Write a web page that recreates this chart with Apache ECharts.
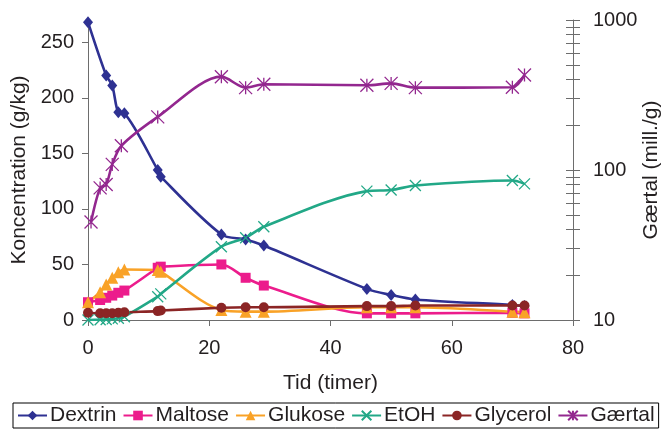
<!DOCTYPE html>
<html>
<head>
<meta charset="utf-8">
<script src="https://cdn.jsdelivr.net/npm/echarts@6/dist/echarts.min.js"></script>
<style>
html,body{margin:0;padding:0;background:#fff;}
#c{width:668px;height:431px;}
</style>
</head>
<body>
<div id="c"></div>
<script>
// ---- data ----
var dextrinT = [0, 3, 4, 5, 6, 11.5, 12, 22, 26, 29, 46, 50, 54, 70, 72];
var dextrin  = [268, 220, 211, 187, 186, 135, 129, 77, 72.5, 67, 28, 22.5, 18.5, 13.5, 12.5];
var sampleT  = [0, 2, 3, 4, 5, 6, 11.5, 12, 22, 26, 29, 46, 50, 54, 70, 72];
var maltose  = [16, 18, 20, 22, 24.5, 26.5, 47, 48, 50, 38, 31, 6, 6, 6, 6.5, 6];
var glukose  = [16, 25, 32, 38, 43, 45.5, 45, 43.5, 9, 7.5, 7.5, 11.5, 11.5, 11.5, 7.5, 7];
var etoh     = [0, 0.3, 0.5, 1, 1.5, 3, 21, 23.5, 66, 74, 84, 116, 117, 121, 125.5, 122.5];
var glycerol = [6.5, 6, 6, 6, 6.5, 7, 8, 8.5, 11, 11.5, 11.5, 12.5, 12.5, 13, 13, 13];
var gaertalT = [0.5, 2, 3, 4, 5.5, 11.5, 22, 26, 29, 46, 50, 54, 70, 72];
var gaertal  = [45, 76, 80, 109, 145, 226, 419, 354, 373, 367, 378, 354, 356, 430];
var leftTicks = [0, 50, 100, 150, 200, 250];
var rightLabels = [10, 100, 1000];
var rightTicks = [10, 20, 30, 40, 50, 60, 70, 80, 90, 100, 200, 300, 400, 500, 600, 700, 800, 900, 1000];

function pairs(t, v) { return t.map(function (x, i) { return [x, v[i]]; }); }
function lg(v) { return Math.log(v) / Math.LN10; }

var FONT = 'Liberation Sans, Arial, sans-serif';
var AX = '#6d6d6d';
var TXT = '#231f20';
var FS = 21;

var C = {
  dextrin: '#2e3192', maltose: '#ec1c8c', glukose: '#f9a227',
  etoh: '#22a887', glycerol: '#8b2525', gaertal: '#93278f'
};

function ser(name, data, color, symbol, size, yIdx, bw) {
  return {
    name: name, type: 'line', data: data, yAxisIndex: yIdx || 0,
    smooth: 0.3, symbol: symbol, symbolSize: size, showSymbol: true,
    lineStyle: { color: color, width: 2.6 },
    itemStyle: { color: color, borderColor: color, borderWidth: bw || 0 },
    emphasis: { disabled: true }, animation: false
  };
}

var XPATH = 'path://M0,0L10,10M10,0L0,10';
var STAR = 'path://M5,0L5,10M0,0L10,10M10,0L0,10';

var rightTickLog = rightTicks.map(lg);
var rightLabelLog = rightLabels.map(lg);

var chart = echarts.init(document.getElementById('c'), null, { renderer: 'canvas' });
chart.setOption({
  animation: false,
  backgroundColor: '#fff',
  textStyle: { fontFamily: FONT },
  grid: { left: 88, right: 95, top: 20, bottom: 111, containLabel: false, outerBoundsMode: 'none' },
  xAxis: {
    type: 'value', min: 0, max: 80, interval: 20,
    name: 'Tid (timer)', nameLocation: 'middle', nameGap: 53,
    nameTextStyle: { fontSize: FS, color: TXT, fontFamily: FONT },
    axisLine: { show: true, lineStyle: { color: AX, width: 1 } },
    axisTick: { show: true, inside: false, length: 6, lineStyle: { color: AX } },
    axisLabel: { fontSize: 20, color: TXT, margin: 18, fontFamily: FONT },
    splitLine: { show: false }
  },
  yAxis: [{
    type: 'value', min: 0, max: 270, interval: 50,
    name: 'Koncentration (g/kg)', nameLocation: 'middle', nameGap: 54,
    nameTextStyle: { fontSize: FS, color: TXT, fontFamily: FONT },
    axisLine: { show: true, lineStyle: { color: AX, width: 1 } },
    axisTick: { show: true, inside: false, length: 6, lineStyle: { color: AX }, customValues: leftTicks },
    axisLabel: { fontSize: 20, color: TXT, margin: 14, fontFamily: FONT, customValues: leftTicks },
    splitLine: { show: false }
  }, {
    type: 'log', logBase: 10, min: 10, max: 1000, position: 'right', show: false
  }, {
    type: 'value', min: 1, max: 3, position: 'right',
    name: 'Gærtal (mill./g)', nameLocation: 'middle', nameGap: 68, nameRotate: 90,
    nameMoveOverlap: false,
    nameTextStyle: { fontSize: FS, color: TXT, fontFamily: FONT },
    axisLine: { show: true, lineStyle: { color: AX, width: 1 } },
    axisTick: { show: true, inside: false, length: 7, lineStyle: { color: AX }, customValues: rightTickLog },
    axisLabel: { fontSize: 20, color: TXT, margin: 20, fontFamily: FONT, customValues: rightLabelLog,
      formatter: function (v) { return String(Math.round(Math.pow(10, v))); } },
    splitLine: { show: false }
  }, {
    type: 'value', min: 1, max: 3, position: 'right',
    axisLine: { show: false },
    axisTick: { show: true, inside: true, length: 7, lineStyle: { color: AX }, customValues: rightTickLog },
    axisLabel: { show: false },
    splitLine: { show: false }
  }],
  legend: {
    left: 13, top: 403, orient: 'horizontal',
    padding: [2, 4, 2, 4], itemGap: 6, itemWidth: 29, itemHeight: 12,
    borderColor: '#000', borderWidth: 1, borderRadius: 0,
    textStyle: { fontSize: FS, color: TXT, fontFamily: FONT, padding: [0, 0, 0, -2] },
    selectedMode: false
  },
  series: [
    ser('Dextrin', pairs(dextrinT, dextrin), C.dextrin, 'diamond', [10, 12]),
    ser('Maltose', pairs(sampleT, maltose), C.maltose, 'rect', 10),
    ser('Glukose', pairs(sampleT, glukose), C.glukose, 'triangle', 12),
    ser('EtOH', pairs(sampleT, etoh), C.etoh, XPATH, 11, 0, 1.3),
    ser('Glycerol', pairs(sampleT, glycerol), C.glycerol, 'circle', 10),
    ser('Gærtal', pairs(gaertalT, gaertal), C.gaertal, STAR, 13, 1, 1.3)
  ]
});
</script>
</body>
</html>
